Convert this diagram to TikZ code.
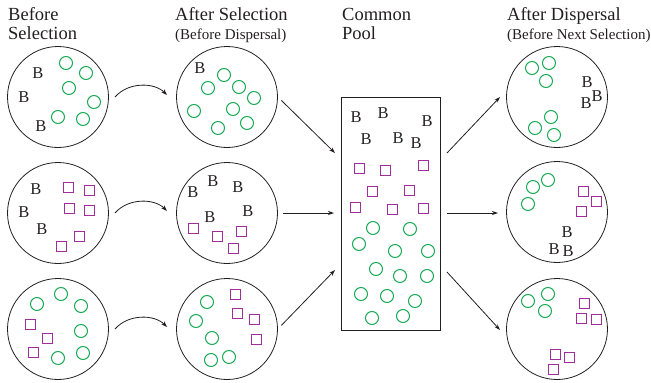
\documentclass[tikz,border=0pt]{standalone}
\usepackage{fontspec}
\setmainfont{Liberation Serif}
\usetikzlibrary{arrows.meta}
\definecolor{gr}{RGB}{25,170,85}
\definecolor{pu}{RGB}{160,45,155}
\definecolor{ink}{RGB}{35,31,32}
\tikzset{
  big/.style={circle,draw=ink,line width=0.8pt,minimum size=101pt,inner sep=0pt},
  pool/.style={rectangle,draw=ink,line width=0.8pt,inner sep=0pt},
  gc/.style={circle,draw=gr,line width=1pt,minimum size=13pt,inner sep=0pt},
  sq/.style={rectangle,draw=pu,line width=1pt,minimum size=10pt,inner sep=0pt},
  bb/.style={inner sep=0pt,text=ink,font=\fontsize{16.5}{17}\selectfont},
  hd/.style={anchor=base west,inner sep=0pt,text=ink,font=\fontsize{18.5}{20}\selectfont},
  sub/.style={anchor=base west,inner sep=0pt,text=ink,font=\fontsize{15}{16}\selectfont},
  arr/.style={draw=ink,line width=0.8pt,-{Stealth[length=6pt,width=4pt]}}
}
\begin{document}
\begin{tikzpicture}[x=1pt,y=-1pt]
\useasboundingbox (0,0) rectangle (651,383);
% headers
\node[hd] (h1a) at (8,20) {Before};
\node[hd] (h1b) at (8,39) {Selection};
\node[hd] (h2a) at (175,20) {After Selection};
\node[sub] (h2b) at (175,39) {(Before Dispersal)};
\node[hd] (h3a) at (342,20) {Common};
\node[hd] (h3b) at (342,39) {Pool};
\node[hd] (h4a) at (507,20) {After Dispersal};
\node[sub] (h4b) at (507,39) {(Before Next Selection)};
% big circles
\node[big] (c11) at (58,97) {};
\node[big] (c12) at (58,213) {};
\node[big] (c13) at (58,329) {};
\node[big] (c21) at (227,97) {};
\node[big] (c22) at (227,213) {};
\node[big] (c23) at (227,329) {};
\node[big] (c41) at (557,97) {};
\node[big] (c42) at (557,212) {};
\node[big] (c43) at (557,329) {};
\node[pool,minimum width=99pt,minimum height=233pt] (pool) at (390.5,213.5) {};
% column 1
\foreach \x/\y [count=\i] in {38/73,24/97,41/126,36/189,24/212,42/229}
  \node[bb] (b1-\i) at (\x,\y) {B};
\foreach \x/\y [count=\i] in {66/63,86/73,69/88,94/102,58/117,83/119,
  61/294,37/304,81/306,81/331,83/353,58/358}
  \node[gc] (g1-\i) at (\x,\y) {};
\foreach \x/\y [count=\i] in {68/187,89/190,69/208,89/210,79/236,61/246,
  30/324,47/338,33/352}
  \node[sq] (s1-\i) at (\x,\y) {};
% column 2
\foreach \x/\y [count=\i] in {200/68,193/192,213/181,238/187,210/217,248/211}
  \node[bb] (b2-\i) at (\x,\y) {B};
\foreach \x/\y [count=\i] in {224/75,208/88,239/87,254/98,194/111,233/109,247/123,218/128,
  207/302,196/321,212/338,211/360,229/357}
  \node[gc] (g2-\i) at (\x,\y) {};
\foreach \x/\y [count=\i] in {193/228,217/236,241/231,233/248,
  235/294,237/313,254/319,256/339}
  \node[sq] (s2-\i) at (\x,\y) {};
% pool
\foreach \x/\y [count=\i] in {356/117,383/113,427/121,366/139,398/138,416/143}
  \node[bb] (b3-\i) at (\x,\y) {B};
\foreach \x/\y [count=\i] in {359/168,385/170,423/165,372/191,409/190,355/207,392/209,423/208}
  \node[sq] (s3-\i) at (\x,\y) {};
\foreach \x/\y [count=\i] in {373/228,410/229,359/244,395/251,428/251,376/269,400/276,427/276,
  361/294,387/296,415/301,372/318,403/316}
  \node[gc] (g3-\i) at (\x,\y) {};
% column 4
\foreach \x/\y [count=\i] in {587/82,586/103,597/96,567/232,554/249,568/251}
  \node[bb] (b4-\i) at (\x,\y) {B};
\foreach \x/\y [count=\i] in {532/68,549/63,546/81,551/117,535/128,554/135,
  533/187,548/180,528/204,528/301,548/294,545/311}
  \node[gc] (g4-\i) at (\x,\y) {};
\foreach \x/\y [count=\i] in {583/191,596/201,581/211,
  584/303,581/318,596/319,555/354,569/357,553/369}
  \node[sq] (s4-\i) at (\x,\y) {};
% curved arrows
\foreach \r/\y in {1/97,2/213,3/329}{
  \coordinate (cs\r) at (115,\y);
  \coordinate (ce\r) at (167,\y-2);
  \draw[arr] (cs\r) .. controls (128,\y-15) and (154,\y-15) .. (ce\r);
}
% straight arrows into pool
\coordinate (pi1) at (335,153);
\coordinate (pi2) at (334,213);
\coordinate (pi3) at (335,270);
\draw[arr,shorten <=5pt] (c21.east) -- (pi1);
\draw[arr,shorten <=5pt] (c22.east) -- (pi2);
\draw[arr,shorten <=5pt] (c23.east) -- (pi3);
% straight arrows out of pool
\coordinate (po1) at (447,153);
\coordinate (po2) at (447,213);
\coordinate (po3) at (447,272);
\coordinate (pe1) at (500,97);
\coordinate (pe2) at (498,213);
\coordinate (pe3) at (500,330);
\draw[arr] (po1) -- (pe1);
\draw[arr] (po2) -- (pe2);
\draw[arr] (po3) -- (pe3);
\end{tikzpicture}
\end{document}
